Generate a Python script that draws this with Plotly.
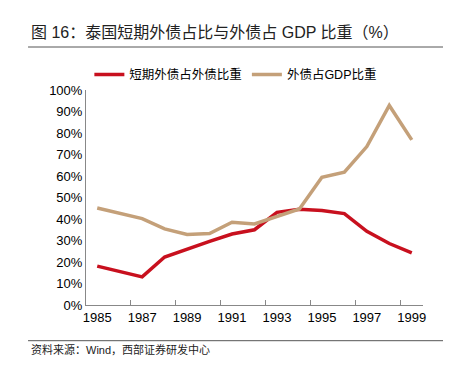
import plotly.graph_objects as go

years = [str(y) for y in range(1985, 2000)]
short_term_share = [18.1, 15.5, 13.1, 22.3, 26.1, 29.6, 33.0, 35.0, 43.1, 44.5, 44.0, 42.5, 34.3, 28.6, 24.3]
debt_to_gdp = [45.1, 42.8, 40.2, 35.4, 32.8, 33.2, 38.5, 37.7, 41.0, 44.7, 59.4, 61.8, 73.7, 92.8, 76.8]
tick_labels = [str(y) for y in range(1985, 2000, 2)]
y_ticks = list(range(0, 101, 10))

title_text = "图 16：泰国短期外债占比与外债占 GDP 比重（%）"
source_text = "资料来源：Wind，西部证券研发中心"
name_red = "短期外债占外债比重"
name_tan = "外债占GDP比重"

RED = "#C8101E"
TAN = "#C4A079"
CJK = "Liberation Sans, Noto Sans CJK SC"

fig = go.Figure()
fig.add_trace(go.Scatter(x=years, y=short_term_share, mode="lines", name=name_red,
                         line=dict(color=RED, width=3.5)))
fig.add_trace(go.Scatter(x=years, y=debt_to_gdp, mode="lines", name=name_tan,
                         line=dict(color=TAN, width=3.5)))

fig.update_layout(
    width=451, height=366,
    margin=dict(l=78, r=36, t=82, b=69, autoexpand=False),
    paper_bgcolor="white", plot_bgcolor="white",
    font=dict(family=CJK, size=13, color="#000000"),
    showlegend=True,
    legend=dict(orientation="h", x=0.01, xanchor="left", y=1.07, yanchor="middle",
                font=dict(size=12.5, family=CJK), tracegroupgap=0,
                bgcolor="rgba(0,0,0,0)"),
    xaxis=dict(type="category", tickmode="array", tickvals=tick_labels, ticktext=tick_labels,
               tickson="boundaries", ticks="inside", ticklen=5, tickcolor="#888888",
               showline=True, linecolor="#888888", linewidth=1, showgrid=False,
               zeroline=False, range=[-0.5, 14.5], tickfont=dict(size=13),
               tickangle=0, automargin=False),
    yaxis=dict(range=[0, 100], tickvals=y_ticks, ticktext=[f"{v}%" for v in y_ticks],
               showline=True, linecolor="#888888", linewidth=1, showgrid=False,
               zeroline=False, ticks="", tickfont=dict(size=13), automargin=False),
)

fig.add_annotation(text=title_text, xref="paper", yref="paper", x=-0.168, y=1.267,
                   xanchor="left", yanchor="middle", showarrow=False,
                   font=dict(size=16, family=CJK, color="#222222"))
fig.add_annotation(text=source_text, xref="paper", yref="paper", x=-0.168, y=-0.208,
                   xanchor="left", yanchor="middle", showarrow=False,
                   font=dict(size=11, family=CJK, color="#222222"))
fig.add_shape(type="line", xref="paper", yref="paper", x0=-0.172, x1=1.062,
              y0=1.2, y1=1.2, line=dict(color="#555555", width=1))
fig.add_shape(type="line", xref="paper", yref="paper", x0=-0.172, x1=1.062,
              y0=-0.166, y1=-0.166, line=dict(color="#555555", width=1))

fig.write_html("out.html")
